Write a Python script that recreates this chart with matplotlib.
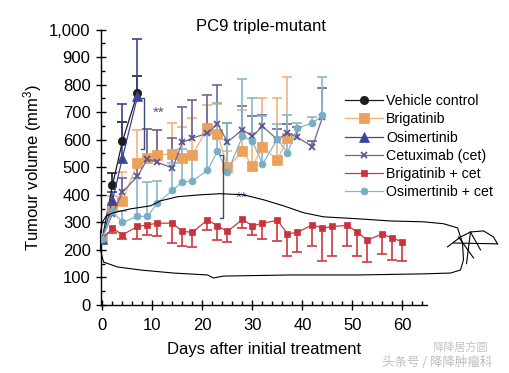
import numpy as np
import matplotlib
matplotlib.use('Agg')
import matplotlib.pyplot as plt

plt.rcParams['font.family'] = ['Liberation Sans', 'DejaVu Sans']
plt.rcParams['mathtext.fontset'] = 'custom'
plt.rcParams['mathtext.rm'] = 'Liberation Sans'
plt.rcParams['mathtext.default'] = 'regular'

# Vehicle control
veh_days = [0, 2, 4, 7]
veh_vol = [245, 436, 595, 770]
veh_err = [10, 44, 71, 63]

# Brigatinib
brig_days = [0, 2, 4, 7, 9, 11, 14, 16, 18, 21, 23, 25, 28, 30, 32, 35, 37]
brig_vol = [245, 355, 378, 515, 535, 545, 549, 533, 545, 642, 622, 500, 558, 505, 573, 527, 605]
brig_err = [10, 40, 103, 120, 105, 90, 111, 113, 134, 85, 109, 60, 150, 120, 178, 224, 223]

# Osimertinib
osi_days = [0, 2, 4, 7]
osi_vol = [240, 380, 535, 757]
osi_err = [10, 30, 196, 209]

# Cetuximab (cet)
cet_days = [0, 2, 4, 7, 9, 11, 14, 16, 18, 21, 23, 25, 28, 30, 32, 35, 37, 39, 42, 44]
cet_vol = [245, 330, 410, 467, 530, 518, 497, 590, 606, 623, 658, 592, 636, 612, 649, 600, 626, 608, 575, 682]
cet_err = [10, 30, 50, 60, 110, 118, 109, 127, 139, 140, 142, 69, 85, 75, 40, 40, 30, 38, 20, 104]

# Brigatinib + cet (error bars drawn downward)
bc_days = [0, 2, 4, 7, 9, 11, 14, 16, 18, 21, 23, 25, 28, 30, 32, 35, 37, 39, 42, 44, 46, 49, 51, 53, 56, 58, 60]
bc_vol = [240, 279, 255, 285, 291, 297, 297, 267, 264, 309, 287, 267, 311, 287, 297, 307, 258, 264, 291, 279,
          285, 289, 264, 236, 258, 242, 230]
bc_err = [8, 18, 16, 46, 36, 46, 73, 52, 55, 36, 50, 37, 32, 32, 58, 74, 80, 73, 78, 118, 107, 75, 85, 80, 73, 78, 70]

# Osimertinib + cet
oc_days = [0, 2, 4, 7, 9, 11, 14, 16, 18, 21, 23, 25, 28, 30, 32, 35, 37, 39, 42, 44]
oc_vol = [240, 340, 300, 322, 322, 371, 416, 447, 450, 489, 558, 482, 613, 594, 511, 603, 552, 642, 661, 688]
oc_err = [10, 20, 40, 140, 125, 80, 100, 120, 110, 130, 175, 178, 206, 157, 176, 55, 139, 20, 23, 141]

# significance brackets and stars
sig_x = [8.3, 24.1]
sig_top = [750, 545]
sig_bottom = [565, 316]
star_x = [11.2, 27.8]
star_y = [698, 389]

# hand-drawn outline on top of the figure (day, volume)
outline_days = [-0.4, 0, 0.8, 2.2, 5.6, 9.6, 11.6, 15, 19.6, 23.6, 28.2, 32.2, 36.2, 40.2, 44.2, 51, 57.6,
                64.2, 68.2, 71, 72, 72.2, 71.6, 69.6, 64.2, 51, 37.6, 24.2, 22.2, 21, 14.2, 7.6, 3, 0.2,
                -0.4, -0.4]
outline_vol = [265, 302, 324, 335, 349, 360, 378, 393, 400, 404, 400, 382, 360, 335, 320, 313, 305,
               302, 295, 280, 225, 164, 127, 116, 113, 109, 109, 105, 98, 109, 116, 127, 138, 156,
               200, 265]
fan_days = [69, 71.6, 73.6, 76.2, 78.2, 79]
fan_vol = [211, 247, 265, 269, 247, 222]
spoke_days = [[71.2, 74.2], [73.6, 75.6], [70.2, 79], [73.6, 72.8]]
spoke_vol = [[247, 171], [265, 200], [225, 222], [265, 150]]

x_ticks = [0, 10, 20, 30, 40, 50, 60]
y_ticks = [0, 100, 200, 300, 400, 500, 600, 700, 800, 900, 1000]
y_labels = ['0', '100', '200', '300', '400', '500', '600', '700', '800', '900', '1,000']

series = [
    ('Vehicle control', veh_days, veh_vol, veh_err, '#1c1c1c', '#1c1c1c', 'o', 6, 'up'),
    ('Brigatinib', brig_days, brig_vol, brig_err, '#f2b27a', '#eba05c', 's', 6.5, 'up'),
    ('Osimertinib', osi_days, osi_vol, osi_err, '#3b4496', '#3b4496', '^', 7, 'up'),
    ('Cetuximab (cet)', cet_days, cet_vol, cet_err, '#6e6499', '#5e5590', 'x', 4.5, 'up'),
    ('Brigatinib + cet', bc_days, bc_vol, bc_err, '#cc3a3f', '#c8323a', 's', 4.5, 'down'),
    ('Osimertinib + cet', oc_days, oc_vol, oc_err, '#86b8cc', '#76aec4', 'o', 5, 'up'),
]

fig = plt.figure(figsize=(5.1, 3.73), dpi=100)
ax = fig.add_axes([101 / 510, 1 - 305 / 373, 326.5 / 510, 275.5 / 373])

for name, d, v, e, lc, mc, mk, ms, side in series:
    d = np.array(d)
    v = np.array(v)
    e = np.array(e)
    if side == 'up':
        lo, hi, cap = v, v + e, v + e
    else:
        lo, hi, cap = v - e, v, v - e
    ax.vlines(d, lo, hi, color=lc, lw=1.2, zorder=2)
    ax.plot(d, cap, ls='none', marker='_', ms=7, mew=1.2, color=lc, zorder=2)

for name, d, v, e, lc, mc, mk, ms, side in series:
    ax.plot(d, v, color=lc, lw=0.9, marker=mk, ms=ms, mfc=mc, mec=mc,
            mew=1.3 if mk == 'x' else 0.5, label=name, zorder=3)

# brackets
for x, t, b in zip(sig_x, sig_top, sig_bottom):
    ax.plot([x - 0.6, x, x, x - 0.6], [t, t, b, b], color='#3d4a7a', lw=1, zorder=4)
for x, y in zip(star_x, star_y):
    ax.text(x, y, '**', color='#4a5590', fontsize=11, ha='center', va='center', zorder=4)

# outline drawn over the chart
ax.plot(outline_days, outline_vol, color='black', lw=0.8, clip_on=False, zorder=5)
ax.plot(fan_days, fan_vol, color='black', lw=0.8, clip_on=False, zorder=5)
for sd, sv in zip(spoke_days, spoke_vol):
    ax.plot(sd, sv, color='black', lw=0.8, clip_on=False, zorder=5)

ax.set_xlim(-0.3, 65)
ax.set_ylim(0, 1000)
ax.set_xticks(x_ticks)
ax.set_xticks(np.arange(0, 65, 2), minor=True)
ax.set_yticks(y_ticks)
ax.set_yticklabels(y_labels)
ax.set_yticks(np.arange(0, 1001, 50), minor=True)
ax.tick_params(which='major', direction='inout', length=7, width=1, labelsize=12, pad=4)
ax.tick_params(axis='x', which='major', pad=5.5)
ax.tick_params(which='minor', direction='in', length=3, width=1)
for s in ['top', 'right']:
    ax.spines[s].set_visible(False)
for s in ['left', 'bottom']:
    ax.spines[s].set_linewidth(1)

ax.set_xlabel('Days after initial treatment', fontsize=12, labelpad=6.5)
ax.set_ylabel('Tumour volume (mm$^3$)', fontsize=12, labelpad=4)
fig.text(261 / 510, 1 - 27 / 373, 'PC9 triple-mutant', fontsize=12, ha='center', va='center')

ax.legend(loc='upper left', bbox_to_anchor=(345 / 510, 1 - 94 / 373), bbox_transform=fig.transFigure,
          frameon=False, fontsize=10.2, borderpad=0, borderaxespad=0, labelspacing=0.3,
          handlelength=2.7, handletextpad=0.2)

# watermark
fig.text(460 / 510, 1 - 347 / 373, '降降居方圆', fontsize=8, color='#c4c4c4', ha='center', va='center',
         family=['Noto Sans CJK SC', 'DejaVu Sans'])
fig.text(437 / 510, 1 - 362 / 373, '头条号 / 降降肿瘤科', fontsize=9, color='#bdbdbd', ha='center', va='center',
         family=['Noto Sans CJK SC', 'DejaVu Sans'])

fig.savefig('out.png', dpi=100)
